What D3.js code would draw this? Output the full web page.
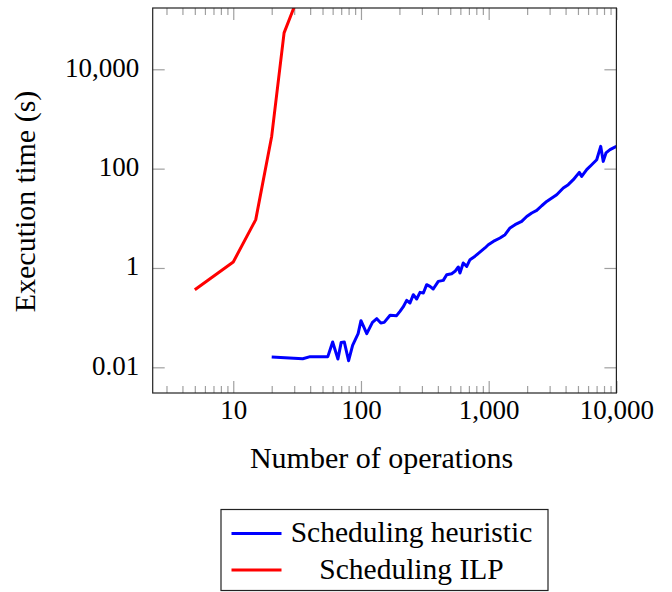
<!DOCTYPE html>
<html>
<head>
<meta charset="utf-8">
<script src="https://cdn.jsdelivr.net/npm/d3@7/dist/d3.min.js"></script>
<style>
  body { margin: 0; background: #fff; }
  svg { display: block; font-family: "Liberation Serif", "DejaVu Serif", serif; }
</style>
</head>
<body>
<div id="chart"></div>
<script>
// Scheduling heuristic: number of operations vs execution time (s)
const heuristicOps = [20, 35, 40, 55, 60, 66, 70, 74, 80, 86, 95, 100, 111, 123, 133, 143, 152, 169,
  190, 202, 214, 228, 242, 257, 273, 290, 308, 327, 347, 368, 403, 441, 469, 513, 545, 578, 596,
  632, 673, 714, 782, 844, 935, 993, 1087, 1226, 1343, 1469, 1608, 1813, 1985, 2173, 2378, 2602,
  2847, 3020, 3408, 3837, 4198, 4598, 5123, 5349, 5853, 6406, 7011, 7535, 7890, 8287, 8913, 10000];
const heuristicTime = [0.0161, 0.0149, 0.0164, 0.0164, 0.0324, 0.0147, 0.0318, 0.0324, 0.0136, 0.0277,
  0.0476, 0.0869, 0.0476, 0.0803, 0.0953, 0.078, 0.0803, 0.112,
  0.1096, 0.1337, 0.164, 0.223, 0.197, 0.29, 0.2377, 0.323, 0.314, 0.461, 0.426, 0.378, 0.537, 0.563,
  0.733, 0.768, 0.855, 1.047, 0.793, 1.26, 1.077, 1.47, 1.73, 2.03, 2.53, 2.94, 3.43, 4.02, 4.68,
  6.39, 7.45, 8.67, 10.9, 12.8, 14.4, 17.9, 21.9, 24.3, 29.9, 40.8, 47.6, 59.9, 84.1, 69.8, 95.3,
  120, 151, 281, 140, 207, 241, 281];

// Scheduling ILP
const ilpOps = [5, 10, 15, 20, 25, 30];
const ilpTime = [0.366, 1.32, 9.4, 450, 54000, 180000];

const xMajorTicks = [10, 100, 1000, 10000];
const xMinorTicks = [3, 4, 5, 6, 7, 8, 9, 20, 30, 40, 50, 60, 70, 80, 90,
  200, 300, 400, 500, 600, 700, 800, 900, 2000, 3000, 4000, 5000, 6000, 7000, 8000, 9000];
const yMajorTicks = [0.01, 1, 100, 10000];

const seriesNames = ["Scheduling heuristic", "Scheduling ILP"];
const seriesColors = ["#0000ff", "#ff0000"];

const W = 672, H = 592;
const plotLeft = 152.7, plotRight = 616.4, plotTop = 8, plotBottom = 393;

const svg = d3.select("#chart").append("svg")
  .attr("width", W).attr("height", H);

const x = d3.scaleLog().domain([2.34, 10000]).range([plotLeft, plotRight]);
const y = d3.scaleLog().domain([Math.pow(10, -2.517), Math.pow(10, 5.234)]).range([plotBottom, plotTop]);

const fmt = d3.format(",");

// ticks (inside, mirrored on both sides)
function styleAxis(g) {
  g.attr("font-family", null).attr("font-size", null);
  g.select(".domain").remove();
  g.selectAll(".tick line").attr("stroke", "#a0a0a0").attr("stroke-width", 1.2);
  g.selectAll(".tick text").attr("fill", "#000").attr("font-size", 27);
}

svg.append("g").attr("transform", `translate(0,${plotBottom})`)
  .call(d3.axisBottom(x).tickValues(xMajorTicks).tickFormat(fmt).tickSizeInner(-12).tickSizeOuter(0))
  .call(styleAxis)
  .selectAll(".tick text").attr("y", 26).attr("dy", 0);
svg.append("g").attr("transform", `translate(0,${plotBottom})`)
  .call(d3.axisBottom(x).tickValues(xMinorTicks).tickFormat("").tickSizeInner(-7).tickSizeOuter(0))
  .call(styleAxis);
svg.append("g").attr("transform", `translate(0,${plotTop})`)
  .call(d3.axisTop(x).tickValues(xMajorTicks).tickFormat("").tickSizeInner(-12).tickSizeOuter(0))
  .call(styleAxis);
svg.append("g").attr("transform", `translate(0,${plotTop})`)
  .call(d3.axisTop(x).tickValues(xMinorTicks).tickFormat("").tickSizeInner(-7).tickSizeOuter(0))
  .call(styleAxis);

svg.append("g").attr("transform", `translate(${plotLeft},0)`)
  .call(d3.axisLeft(y).tickValues(yMajorTicks).tickFormat(fmt).tickSizeInner(-12).tickSizeOuter(0))
  .call(styleAxis)
  .selectAll(".tick text").attr("x", -13.5).attr("dy", 7);
svg.append("g").attr("transform", `translate(${plotRight},0)`)
  .call(d3.axisRight(y).tickValues(yMajorTicks).tickFormat("").tickSizeInner(-12).tickSizeOuter(0))
  .call(styleAxis);

// lines
svg.append("clipPath").attr("id", "plotClip")
  .append("rect").attr("x", plotLeft).attr("y", plotTop)
  .attr("width", plotRight - plotLeft).attr("height", plotBottom - plotTop);

const line = d3.line().x(d => x(d[0])).y(d => y(d[1]));
const series = [
  d3.zip(heuristicOps, heuristicTime),
  d3.zip(ilpOps, ilpTime)
];

svg.append("g").attr("clip-path", "url(#plotClip)")
  .selectAll("path").data(series).join("path")
  .attr("d", line)
  .attr("fill", "none")
  .attr("stroke", (d, i) => seriesColors[i])
  .attr("stroke-width", 3)
  .attr("stroke-linejoin", "round");

// frame
svg.append("rect")
  .attr("x", plotLeft).attr("y", plotTop)
  .attr("width", plotRight - plotLeft).attr("height", plotBottom - plotTop)
  .attr("fill", "none").attr("stroke", "#222").attr("stroke-width", 1.2);

// axis titles
svg.append("text")
  .attr("x", (plotLeft + plotRight) / 2 - 3).attr("y", 468)
  .attr("text-anchor", "middle").attr("font-size", 30)
  .text("Number of operations");
svg.append("text")
  .attr("transform", `translate(35,${(plotTop + plotBottom) / 2 + 1}) rotate(-90)`)
  .attr("text-anchor", "middle").attr("font-size", 30)
  .text("Execution time (s)");

// legend
const legend = svg.append("g");
legend.append("rect")
  .attr("x", 221).attr("y", 509.5).attr("width", 327).attr("height", 81)
  .attr("fill", "#fff").attr("stroke", "#222").attr("stroke-width", 1.2);
seriesNames.forEach((name, i) => {
  const cy = 533.5 + i * 36.5;
  legend.append("line")
    .attr("x1", 231.5).attr("x2", 281.5).attr("y1", cy).attr("y2", cy)
    .attr("stroke", seriesColors[i]).attr("stroke-width", 3);
  legend.append("text")
    .attr("x", 411.5).attr("y", cy + 8.5)
    .attr("text-anchor", "middle").attr("font-size", 29.5)
    .text(name);
});
</script>
</body>
</html>
